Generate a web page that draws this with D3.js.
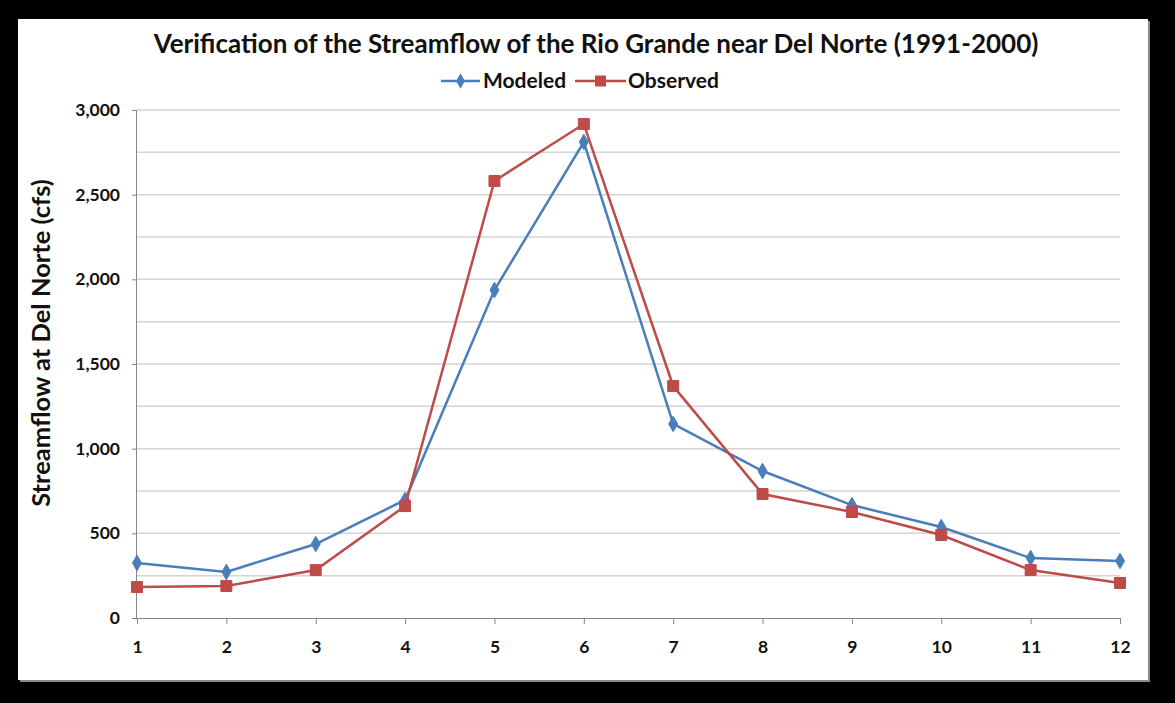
<!DOCTYPE html>
<html>
<head>
<meta charset="utf-8">
<script src="https://cdn.jsdelivr.net/npm/d3@7"></script>
<style>
  body { margin: 0; background: #000; }
  svg { display: block; }
  text { font-family: Lato, "Open Sans", sans-serif; }
</style>
</head>
<body>
<div id="chart"></div>
<script>
// DATA -----------------------------------------------------------------
const months   = [1, 2, 3, 4, 5, 6, 7, 8, 9, 10, 11, 12]
const modeled  = [325, 272, 437, 697, 1937, 2811, 1146, 868, 667, 537, 354, 337]
const observed = [183, 189, 283, 661, 2581, 2917, 1370, 732, 626, 490, 283, 207]
const yTicks   = [0, 500, 1000, 1500, 2000, 2500, 3000]
const yGrid    = d3.range(0, 3001, 250)

const series = [
  { name: "Modeled",  values: modeled,  color: "#4A7EBB", marker: d3.symbolDiamond, size: 70 },
  { name: "Observed", values: observed, color: "#BE4B48", marker: d3.symbolSquare,  size: 120 }
]

// LAYOUT ---------------------------------------------------------------
const width = 1175, height = 703
const panel = { x: 18, y: 19, w: 1130, h: 661 }
const plot  = { left: 137, right: 1120, top: 110, bottom: 618 }

const svg = d3.select("#chart").append("svg")
  .attr("width", width)
  .attr("height", height)

svg.append("rect").attr("width", width).attr("height", height).attr("fill", "#000")

// panel shadow + panel
svg.append("rect")
  .attr("x", panel.x + 2).attr("y", panel.y + 2)
  .attr("width", panel.w).attr("height", panel.h)
  .attr("fill", "#8a8a8a")
svg.append("rect")
  .attr("x", panel.x).attr("y", panel.y)
  .attr("width", panel.w).attr("height", panel.h)
  .attr("fill", "#fff")

// SCALES ---------------------------------------------------------------
const x = d3.scalePoint().domain(months).range([plot.left, plot.right])
const y = d3.scaleLinear().domain([0, 3000]).range([plot.bottom, plot.top])

// gridlines every 250
svg.append("g")
  .selectAll("line")
  .data(yGrid.filter(v => v > 0))
  .join("line")
  .attr("x1", plot.left).attr("x2", plot.right)
  .attr("y1", d => y(d)).attr("y2", d => y(d))
  .attr("stroke", "#d4d4d4")
  .attr("stroke-width", 1.5)

// y axis
const yAxis = svg.append("g")
  .attr("transform", `translate(${plot.left},0)`)
  .call(d3.axisLeft(y).tickValues(yTicks).tickSize(5).tickPadding(12).tickFormat(d3.format(",")))
yAxis.select(".domain").attr("stroke", "#868686").attr("d", `M-0.5,${plot.top}V${plot.bottom}`)
yAxis.selectAll(".tick line").attr("stroke", "#868686")
yAxis.selectAll(".tick text")
  .attr("fill", "#111")
  .style("font-size", "17.5px")
  .style("font-weight", "bold")

// x axis
const xAxis = svg.append("g")
  .attr("transform", `translate(0,${plot.bottom})`)
  .call(d3.axisBottom(x).tickSize(6).tickPadding(17))
xAxis.select(".domain").attr("stroke", "#868686").attr("d", `M${plot.left},0.5H${plot.right}`)
xAxis.selectAll(".tick line").attr("stroke", "#868686")
xAxis.selectAll(".tick text")
  .attr("fill", "#111")
  .style("font-size", "17.5px")
  .style("font-weight", "bold")

// LINES + MARKERS ------------------------------------------------------
const line = d3.line()
  .x((d, i) => x(months[i]))
  .y(d => y(d))

series.forEach(s => {
  svg.append("path")
    .datum(s.values)
    .attr("d", line)
    .attr("fill", "none")
    .attr("stroke", s.color)
    .attr("stroke-width", 2.5)

  svg.append("g")
    .selectAll("path")
    .data(s.values)
    .join("path")
    .attr("transform", (d, i) => `translate(${x(months[i])},${y(d)})`)
    .attr("d", d3.symbol().type(s.marker).size(s.size))
    .attr("fill", s.color)
    .attr("stroke", s.color)
})

// TITLE ----------------------------------------------------------------
svg.append("text")
  .attr("x", 596).attr("y", 53)
  .attr("text-anchor", "middle")
  .style("font-size", "26px")
  .style("font-weight", "bold")
  .attr("fill", "#111")
  .text("Verification of the Streamflow of the Rio Grande near Del Norte (1991-2000)")

// y axis title
svg.append("text")
  .attr("transform", `translate(50,343) rotate(-90)`)
  .attr("text-anchor", "middle")
  .style("font-size", "25.5px")
  .style("font-weight", "bold")
  .attr("fill", "#111")
  .text("Streamflow at Del Norte (cfs)")

// LEGEND ---------------------------------------------------------------
const legendPos = [{ x: 441, tx: 483 }, { x: 575, tx: 628 }]
const legend = svg.append("g")
series.forEach((s, i) => {
  const lp = legendPos[i]
  const w = i === 0 ? 39 : 51
  legend.append("line")
    .attr("x1", lp.x).attr("x2", lp.x + w)
    .attr("y1", 81).attr("y2", 81)
    .attr("stroke", s.color).attr("stroke-width", 2.5)
  legend.append("path")
    .attr("transform", `translate(${lp.x + w / 2},81)`)
    .attr("d", d3.symbol().type(s.marker).size(s.size))
    .attr("fill", s.color)
  legend.append("text")
    .attr("x", lp.tx).attr("y", 88)
    .style("font-size", "21px")
    .style("font-weight", "bold")
    .attr("fill", "#111")
    .text(s.name)
})
</script>
</body>
</html>
